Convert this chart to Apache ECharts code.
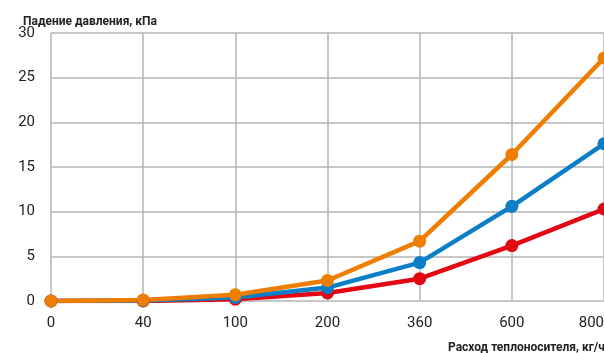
<!DOCTYPE html>
<html>
<head>
<meta charset="utf-8">
<script src="https://cdn.jsdelivr.net/npm/echarts@6/dist/echarts.min.js"></script>
<style>
  html, body { margin: 0; padding: 0; background: #fff; }
  #chart { width: 604px; height: 353px; }
</style>
</head>
<body>
<div id="chart"></div>
<script>
var flowRates = ["0", "40", "100", "200", "360", "600", "800"];
var redDrop = [0, 0, 0.2, 0.9, 2.5, 6.2, 10.3];
var blueDrop = [0, 0.05, 0.4, 1.5, 4.3, 10.6, 17.6];
var orangeDrop = [0, 0.1, 0.7, 2.3, 6.7, 16.4, 27.2];

var myChart = echarts.init(document.getElementById("chart"));

function makeSeries(name, data, color) {
  return {
    type: "line",
    name: name,
    data: data,
    color: color,
    symbol: "circle",
    symbolSize: 13,
    lineStyle: { width: 4.5 },
    animation: false,
  };
}

var option = {
  animation: false,
  textStyle: { fontFamily: "Roboto" },
  title: [
    {
      text: "Падение давления, кПа",
      left: 18,
      top: 11,
      textStyle: { fontSize: 12, fontWeight: "bold", color: "#222" },
    },
    {
      text: "Расход теплоносителя, кг/ч",
      left: 443,
      top: 337,
      textStyle: { fontSize: 12, fontWeight: "bold", color: "#222" },
    },
  ],
  grid: {
    left: 51,
    right: 0,
    top: 33,
    bottom: 52,
    containLabel: false,
    outerBoundsMode: "none",
  },
  xAxis: {
    type: "category",
    data: flowRates,
    boundaryGap: false,
    axisLine: { show: false },
    axisTick: { show: false },
    axisLabel: {
      fontSize: 15,
      color: "#222",
      margin: 15,
      alignMaxLabel: "right",
    },
    splitLine: { show: true, lineStyle: { color: "#b4b4b4", width: 1.5 } },
  },
  yAxis: {
    type: "value",
    min: 0,
    max: 30,
    interval: 5,
    axisLine: { show: false },
    axisTick: { show: false },
    axisLabel: { fontSize: 15, color: "#222", margin: 16 },
    splitLine: { lineStyle: { color: "#b4b4b4", width: 1.5 } },
  },
  series: [
    makeSeries("red", redDrop, "#e30613"),
    makeSeries("blue", blueDrop, "#0a7fc7"),
    makeSeries("orange", orangeDrop, "#ef7d00"),
  ],
};

myChart.setOption(option);
</script>
</body>
</html>
